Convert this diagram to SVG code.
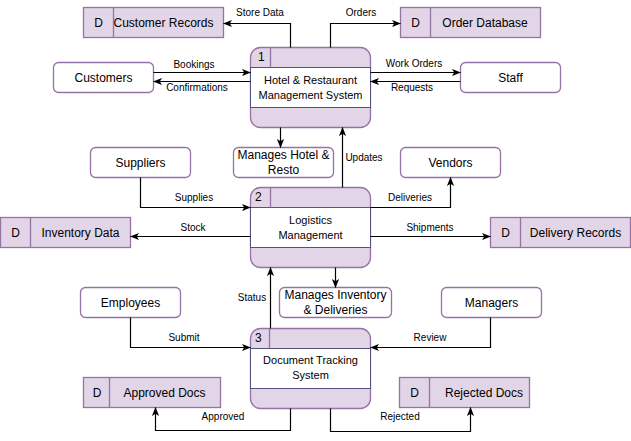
<svg xmlns="http://www.w3.org/2000/svg" width="631" height="441" viewBox="0 0 631 441">
<style>
text{font-family:"Liberation Sans",Arial,sans-serif;fill:#000}
.ent{fill:#fff;stroke:#9673a6;stroke-width:1.3}
.ds{fill:#e1d5e7;stroke:#9673a6;stroke-width:1.3}
.pr{fill:#e1d5e7;stroke:#9673a6;stroke-width:1.3}
.band{fill:#fff;stroke:#56517e;stroke-width:1}
.sep{stroke:#9673a6;stroke-width:1.3}
.t12{font-size:12px;text-anchor:middle}
.t11{font-size:11px;text-anchor:middle}
.lbl{font-size:10px;text-anchor:middle}
.c{fill:none;stroke:#000;stroke-width:1.2;marker-end:url(#arr)}
</style>
<defs>
<marker id="arr" viewBox="0 0 10 10" refX="9.5" refY="5" markerWidth="9" markerHeight="9" orient="auto" markerUnits="userSpaceOnUse">
<path d="M0,1 L10,5 L0,9 L2.5,5 z" fill="#000"/>
</marker>
</defs>

<!-- Processes -->
<g id="p1">
<rect class="pr" x="250.5" y="47.5" width="120" height="80" rx="10"/>
<rect class="band" x="250.5" y="67.5" width="120" height="40"/>
<line class="sep" x1="270.5" y1="47.5" x2="270.5" y2="67.5"/>
<text x="258" y="61" font-size="12px">1</text>
<text class="t11" x="310.5" y="84">Hotel &amp; Restaurant</text>
<text class="t11" x="310.5" y="99">Management System</text>
</g>
<g id="p2">
<rect class="pr" x="250.5" y="187.5" width="120" height="80" rx="10"/>
<rect class="band" x="250.5" y="207.5" width="120" height="40"/>
<line class="sep" x1="270.5" y1="187.5" x2="270.5" y2="207.5"/>
<text x="255" y="201" font-size="12px">2</text>
<text class="t11" x="310.5" y="224">Logistics</text>
<text class="t11" x="310.5" y="239">Management</text>
</g>
<g id="p3">
<rect class="pr" x="250.5" y="328.5" width="120" height="80" rx="10"/>
<rect class="band" x="250.5" y="348.5" width="120" height="40"/>
<line class="sep" x1="269.5" y1="328.5" x2="269.5" y2="348.5"/>
<text x="255" y="342" font-size="12px">3</text>
<text class="t11" x="310.5" y="364">Document Tracking</text>
<text class="t11" x="310.5" y="379">System</text>
</g>

<!-- Data stores -->
<g id="ds-customer-records">
<rect class="ds" x="83.5" y="7.5" width="140" height="30"/>
<line class="sep" x1="113.5" y1="7.5" x2="113.5" y2="37.5"/>
<text class="t12" x="98.5" y="27">D</text>
<text class="t12" x="163.5" y="27">Customer Records</text>
</g>
<g id="ds-order-database">
<rect class="ds" x="400.5" y="7.5" width="140" height="30"/>
<line class="sep" x1="430.5" y1="7.5" x2="430.5" y2="37.5"/>
<text class="t12" x="415.5" y="27">D</text>
<text class="t12" x="485" y="27">Order Database</text>
</g>
<g id="ds-inventory-data">
<rect class="ds" x="0.5" y="217.5" width="130" height="30"/>
<line class="sep" x1="30.5" y1="217.5" x2="30.5" y2="247.5"/>
<text class="t12" x="15.5" y="237">D</text>
<text class="t12" x="80.5" y="237">Inventory Data</text>
</g>
<g id="ds-delivery-records">
<rect class="ds" x="490.5" y="217.5" width="140" height="30"/>
<line class="sep" x1="520.5" y1="217.5" x2="520.5" y2="247.5"/>
<text class="t12" x="505.5" y="237">D</text>
<text class="t12" x="575.5" y="237">Delivery Records</text>
</g>
<g id="ds-approved-docs">
<rect class="ds" x="83.5" y="377.5" width="137" height="30"/>
<line class="sep" x1="109.5" y1="377.5" x2="109.5" y2="407.5"/>
<text class="t12" x="97" y="397">D</text>
<text class="t12" x="164.5" y="397">Approved Docs</text>
</g>
<g id="ds-rejected-docs">
<rect class="ds" x="399.5" y="377.5" width="130" height="30"/>
<line class="sep" x1="429.5" y1="377.5" x2="429.5" y2="407.5"/>
<text class="t12" x="414.5" y="397">D</text>
<text class="t12" x="484" y="397">Rejected Docs</text>
</g>

<!-- External entities -->
<g id="e-customers">
<rect class="ent" x="53.5" y="62.5" width="100" height="30" rx="5"/>
<text class="t12" x="103.5" y="82">Customers</text>
</g>
<g id="e-staff">
<rect class="ent" x="460.5" y="62.5" width="100" height="30" rx="5"/>
<text class="t12" x="510.5" y="82">Staff</text>
</g>
<g id="e-suppliers">
<rect class="ent" x="90.5" y="147.5" width="100" height="30" rx="5"/>
<text class="t12" x="140.5" y="167">Suppliers</text>
</g>
<g id="e-vendors">
<rect class="ent" x="400.5" y="147.5" width="100" height="30" rx="5"/>
<text class="t12" x="450.5" y="167">Vendors</text>
</g>
<g id="e-employees">
<rect class="ent" x="80.5" y="287.5" width="100" height="30" rx="5"/>
<text class="t12" x="130.5" y="307">Employees</text>
</g>
<g id="e-managers">
<rect class="ent" x="441.5" y="287.5" width="100" height="30" rx="5"/>
<text class="t12" x="491.5" y="307">Managers</text>
</g>

<!-- Notes -->
<g id="n-manages-hotel">
<rect class="ent" x="233.5" y="147.5" width="100" height="30" rx="5"/>
<text class="t12" x="283.5" y="159">Manages Hotel &amp;</text>
<text class="t12" x="283.5" y="174">Resto</text>
</g>
<g id="n-manages-inventory">
<rect class="ent" x="279.5" y="287.5" width="112" height="30" rx="5"/>
<text class="t12" x="335.5" y="299">Manages Inventory</text>
<text class="t12" x="335.5" y="314">&amp; Deliveries</text>
</g>

<!-- Connectors -->
<g id="connectors">
<path class="c" d="M290.5,47.5 V23.5 H223.5"/>
<path class="c" d="M330.5,47.5 V23.5 H400.5"/>
<path class="c" d="M153.5,72.5 H250.5"/>
<path class="c" d="M250.5,81.5 H153.5"/>
<path class="c" d="M370.5,72.5 H460.5"/>
<path class="c" d="M460.5,81.5 H370.5"/>
<path class="c" d="M280.5,127.5 V147.5"/>
<path class="c" d="M342.5,187.5 V127.5"/>
<path class="c" d="M140.5,177.5 V207.5 H250.5"/>
<path class="c" d="M250.5,236.5 H130.5"/>
<path class="c" d="M370.5,207.5 H450.5 V177.5"/>
<path class="c" d="M370.5,236.5 H490.5"/>
<path class="c" d="M335.5,267.5 V287.5"/>
<path class="c" d="M270.5,328.5 V267.5"/>
<path class="c" d="M130.5,317.5 V347.5 H250.5"/>
<path class="c" d="M490.5,317.5 V347.5 H370.5"/>
<path class="c" d="M290.5,408.5 V430.5 H155.5 V407.5"/>
<path class="c" d="M330.5,408.5 V431.5 H470.5 V407.5"/>
<text class="lbl" x="260" y="16">Store Data</text>
<text class="lbl" x="361" y="16">Orders</text>
<text class="lbl" x="194" y="68">Bookings</text>
<text class="lbl" x="197" y="91">Confirmations</text>
<text class="lbl" x="414" y="67">Work Orders</text>
<text class="lbl" x="412" y="91">Requests</text>
<text class="lbl" x="364" y="161">Updates</text>
<text class="lbl" x="194" y="201">Supplies</text>
<text class="lbl" x="410" y="201">Deliveries</text>
<text class="lbl" x="193" y="231">Stock</text>
<text class="lbl" x="430" y="231">Shipments</text>
<text class="lbl" x="252" y="301">Status</text>
<text class="lbl" x="184" y="341">Submit</text>
<text class="lbl" x="430" y="341">Review</text>
<text class="lbl" x="223" y="420">Approved</text>
<text class="lbl" x="400" y="420">Rejected</text>
</g>
</svg>
